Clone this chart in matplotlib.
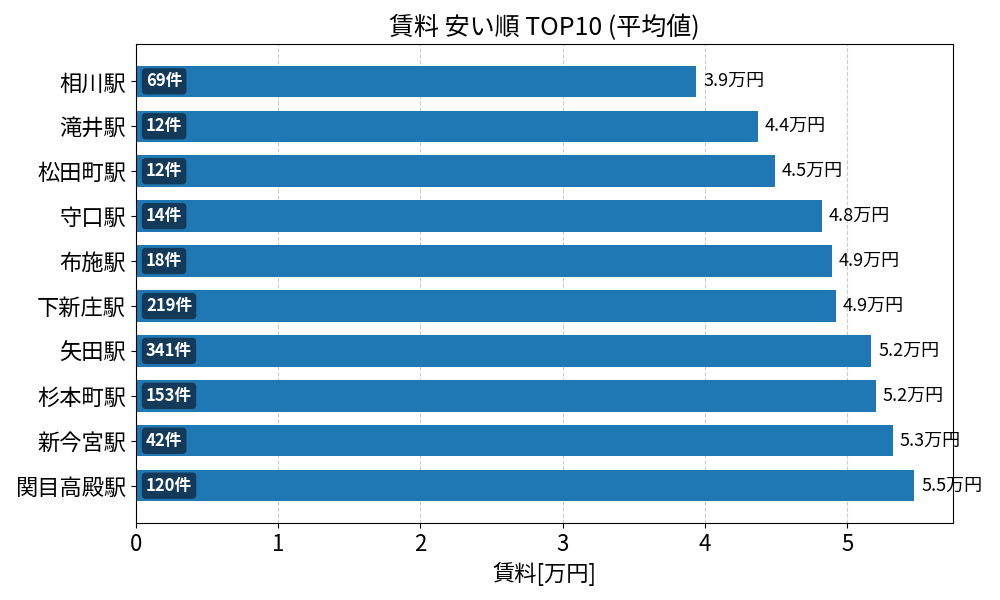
import matplotlib
matplotlib.use('Agg')
import matplotlib.pyplot as plt
import numpy as np

plt.rcParams['font.family'] = ['Noto Sans CJK JP', 'DejaVu Sans']

stations = ['相川駅', '滝井駅', '松田町駅', '守口駅', '布施駅', '下新庄駅', '矢田駅', '杉本町駅', '新今宮駅', '関目高殿駅']
rent = [3.94, 4.37, 4.49, 4.82, 4.89, 4.92, 5.17, 5.20, 5.32, 5.47]
counts = [69, 12, 12, 14, 18, 219, 341, 153, 42, 120]

fig, ax = plt.subplots(figsize=(10, 6), dpi=100)
y = np.arange(len(stations))
bars = ax.barh(y, rent, height=0.7, color='#1f77b4', zorder=2)

ax.set_yticks(y)
ax.set_yticklabels(stations, fontsize=16)
ax.invert_yaxis()
ax.set_xlim(0, max(rent) * 1.05)
ax.tick_params(axis='x', labelsize=16)
ax.grid(axis='x', linestyle='--', color='#cccccc', zorder=0)
ax.set_axisbelow(True)

for yi, v, c in zip(y, rent, counts):
    ax.text(v + 0.05, yi, '%.1f万円' % v, va='center', ha='left', fontsize=13)
    ax.text(0.07, yi, '%d件' % c, va='center', ha='left', fontsize=12,
            color='white', fontweight='bold',
            bbox=dict(boxstyle='round,pad=0.25', facecolor='#143a5a', edgecolor='none'))

ax.set_xlabel('賃料[万円]', fontsize=16)
ax.set_title('賃料 安い順 TOP10 (平均値)', fontsize=18)

plt.subplots_adjust(left=0.136, right=0.953, top=0.927, bottom=0.128)
plt.savefig('out.png')
